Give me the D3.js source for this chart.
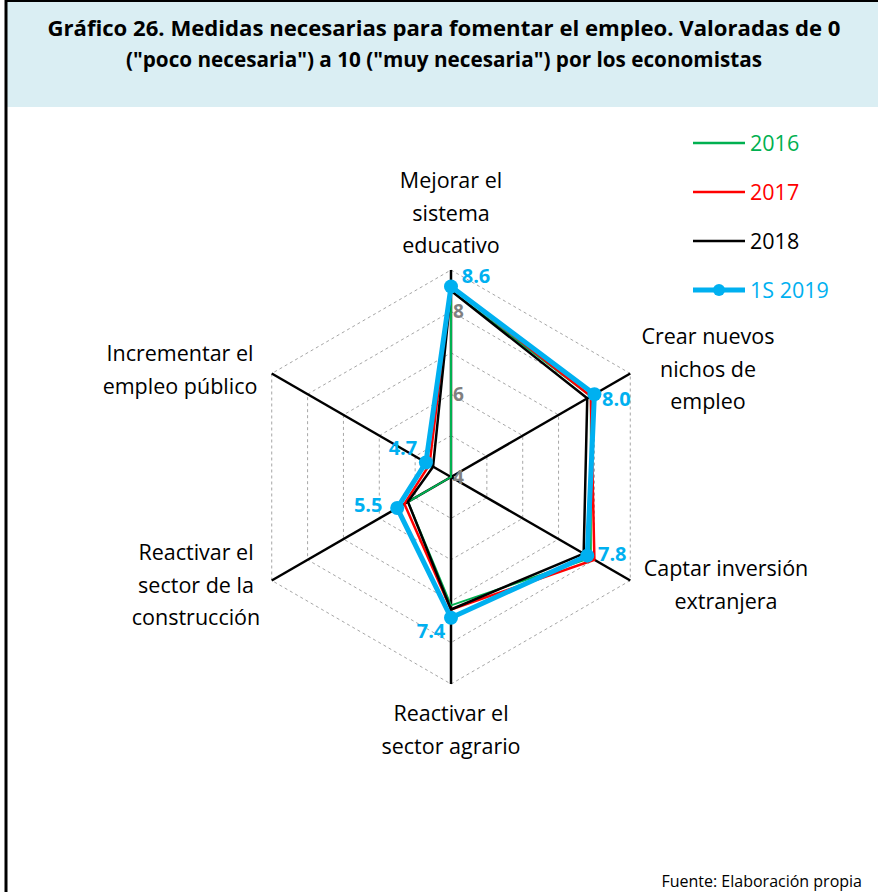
<!DOCTYPE html>
<html>
<head>
<meta charset="utf-8">
<script src="https://cdn.jsdelivr.net/npm/d3@7"></script>
<style>
  body { margin: 0; background: #fff; }
  svg { display: block; font-family: "Open Sans", "Noto Sans", sans-serif; }
</style>
</head>
<body>
<div id="chart"></div>
<script>
// 数据
const categories = [
    ["Mejorar el", "sistema", "educativo"],
    ["Crear nuevos", "nichos de", "empleo"],
    ["Captar inversión", "extranjera"],
    ["Reactivar el", "sector agrario"],
    ["Reactivar el", "sector de la", "construcción"],
    ["Incrementar el", "empleo público"]
];
const seriesNames = ["2016", "2017", "2018", "1S 2019"];
const seriesColors = ["#00B050", "#FF0000", "#000000", "#00B0F0"];
const values2016 = [8.5, 7.9, 7.9, 7.1, 5.2, 4.0];
const values2017 = [8.6, 7.9, 8.0, 7.2, 5.3, 4.6];
const values2018 = [8.5, 7.8, 7.7, 7.2, 5.2, 4.5];
const values2019 = [8.6, 8.0, 7.8, 7.4, 5.5, 4.7];
const gridLevels = [5, 6, 7, 8, 9];
const tickLabels = [4, 6, 8];

const width = 878, height = 892;
const cx = 451, cy = 477;

const svg = d3.select("#chart").append("svg")
    .attr("width", width)
    .attr("height", height);

// 标题区域
svg.append("rect")
    .attr("x", 6).attr("y", 0)
    .attr("width", width - 6).attr("height", 107)
    .attr("fill", "#DAEEF3");
svg.append("line")
    .attr("x1", 6).attr("x2", 6).attr("y1", 0).attr("y2", height)
    .attr("stroke", "#000").attr("stroke-width", 3);
svg.append("line")
    .attr("x1", 6).attr("x2", width).attr("y1", 1).attr("y2", 1)
    .attr("stroke", "#000").attr("stroke-width", 2);

const titleLines = [
    "Gráfico 26. Medidas necesarias para fomentar el empleo. Valoradas de 0",
    "(\"poco necesaria\") a 10 (\"muy necesaria\") por los economistas"
];
const titleLengths = [793, 636];
svg.append("g").selectAll("text")
    .data(titleLines)
    .enter().append("text")
    .attr("x", 444)
    .attr("y", (d, i) => 36 + i * 31)
    .attr("text-anchor", "middle")
    .attr("font-size", "22px")
    .attr("font-weight", "bold")
    .attr("fill", "#000")
    .attr("textLength", (d, i) => titleLengths[i])
    .attr("lengthAdjust", "spacingAndGlyphs")
    .text(d => d);

// 径向比例尺
const r = d3.scaleLinear().domain([4, 9]).range([0, 207]);
const n = categories.length;
const angle = i => i * 2 * Math.PI / n;

const g = svg.append("g").attr("transform", `translate(${cx},${cy})`);

// 网格
g.selectAll("path.grid")
    .data(gridLevels)
    .enter().append("path")
    .attr("class", "grid")
    .attr("d", lv => d3.lineRadial()
        .angle((d, i) => angle(i))
        .radius(() => r(lv))
        .curve(d3.curveLinearClosed)(categories))
    .attr("fill", "none")
    .attr("stroke", "#A6A6A6")
    .attr("stroke-width", 1)
    .attr("stroke-dasharray", "3,3");

// 轴线
g.selectAll("line.axis")
    .data(categories)
    .enter().append("line")
    .attr("class", "axis")
    .attr("x1", 0).attr("y1", 0)
    .attr("x2", (d, i) => r(9) * Math.sin(angle(i)))
    .attr("y2", (d, i) => -r(9) * Math.cos(angle(i)))
    .attr("stroke", "#000")
    .attr("stroke-width", 2.5);

// 刻度标签
g.selectAll("text.tick")
    .data(tickLabels)
    .enter().append("text")
    .attr("class", "tick")
    .attr("x", 2)
    .attr("y", d => -r(d) + 7)
    .attr("font-size", "19px")
    .attr("font-weight", "bold")
    .attr("fill", "#808080")
    .text(d => d);

// 系列
const allValues = [values2016, values2017, values2018, values2019];
const widths = [2, 2.5, 2.5, 5];
const line = d3.lineRadial()
    .angle((d, i) => angle(i))
    .radius(d => r(d))
    .curve(d3.curveLinearClosed);

allValues.forEach((vals, s) => {
    g.append("path")
        .attr("d", line(vals))
        .attr("fill", "none")
        .attr("stroke", seriesColors[s])
        .attr("stroke-width", widths[s])
        .attr("stroke-linejoin", "round");
});

// 1S 2019 标记点
g.selectAll("circle.pt")
    .data(values2019)
    .enter().append("circle")
    .attr("class", "pt")
    .attr("cx", (d, i) => r(d) * Math.sin(angle(i)))
    .attr("cy", (d, i) => -r(d) * Math.cos(angle(i)))
    .attr("r", 7)
    .attr("fill", "#00B0F0");

// 数值标签
const valueOffsets = [[25, -11], [22, 5], [25, -2], [-20, 13], [-29, -3], [-23, -15]];
g.selectAll("text.val")
    .data(values2019)
    .enter().append("text")
    .attr("class", "val")
    .attr("x", (d, i) => r(d) * Math.sin(angle(i)) + valueOffsets[i][0])
    .attr("y", (d, i) => -r(d) * Math.cos(angle(i)) + valueOffsets[i][1] + 7)
    .attr("text-anchor", "middle")
    .attr("font-size", "20px")
    .attr("font-weight", "bold")
    .attr("fill", "#00B0F0")
    .text(d => d.toFixed(1));

// 类别标签
const labelPos = [[0, -289], [257, -133], [275, 99], [0, 244], [-255, 83], [-271, -116]];
categories.forEach((lines, i) => {
    const [lx, ly] = labelPos[i];
    g.append("text")
        .attr("text-anchor", "middle")
        .attr("font-size", "21.5px")
        .attr("fill", "#000")
        .selectAll("tspan")
        .data(lines)
        .enter().append("tspan")
        .attr("x", lx)
        .attr("y", (d, k) => ly + k * 32.5)
        .text(d => d);
});

// 图例
const legend = svg.append("g").attr("transform", "translate(693,143)");
seriesNames.forEach((name, s) => {
    const row = legend.append("g").attr("transform", `translate(0,${s * 49})`);
    row.append("line")
        .attr("x1", 0).attr("x2", 52).attr("y1", 0).attr("y2", 0)
        .attr("stroke", seriesColors[s])
        .attr("stroke-width", s === 3 ? 5 : 2.5);
    if (s === 3) {
        row.append("circle").attr("cx", 26).attr("cy", 0).attr("r", 6)
            .attr("fill", seriesColors[s]);
    }
    row.append("text")
        .attr("x", 57).attr("y", 8)
        .attr("font-size", "21.5px")
        .attr("fill", seriesColors[s])
        .text(name);
});

// 来源
svg.append("text")
    .attr("x", 862).attr("y", 887)
    .attr("text-anchor", "end")
    .attr("font-size", "16px")
    .attr("fill", "#000")
    .text("Fuente: Elaboración propia");
</script>
</body>
</html>
